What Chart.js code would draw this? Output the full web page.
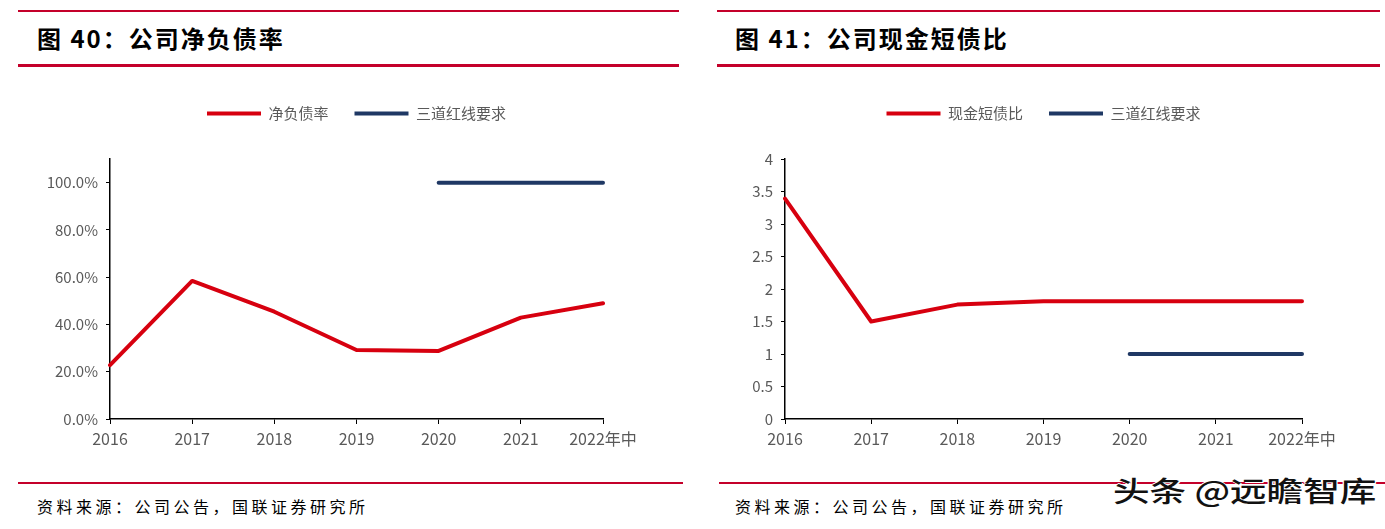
<!DOCTYPE html>
<html>
<head>
<meta charset="utf-8">
<script src="https://cdn.jsdelivr.net/npm/chart.js@4/dist/chart.umd.min.js"></script>
<style>
  body { margin: 0; width: 1385px; height: 529px; background: #fff; position: relative; overflow: hidden; font-family: 'Noto Sans CJK SC', sans-serif; }
  .rule { position: absolute; background: #C4002A; }
  .title { position: absolute; top: 26px; height: 24px; line-height: 24px; font-size: 24px; font-weight: bold; letter-spacing: 2px; color: #000; white-space: nowrap; }
  .source { position: absolute; top: 498px; height: 16px; line-height: 16px; font-size: 16px; letter-spacing: 3.5px; color: #000; white-space: nowrap; }
  canvas { position: absolute; top: 80px; }
  #mark { position: absolute; left: 1113px; top: 476px; height: 28px; line-height: 28px; font-size: 28px; font-weight: 500; color: #111; white-space: nowrap; transform-origin: left center; text-shadow: 1px 1px 0 #fff, -1px 0 0 #fff, 0 -1px 0 #fff; }
</style>
</head>
<body>
<div class="rule" style="left:18px;width:661px;top:10px;height:2px"></div>
<div class="rule" style="left:18px;width:661px;top:64px;height:3px"></div>
<div class="rule" style="left:717px;width:663px;top:10px;height:2px"></div>
<div class="rule" style="left:717px;width:663px;top:64px;height:3px"></div>
<div class="rule" style="left:18px;width:665px;top:482px;height:2px"></div>
<div class="rule" style="left:719px;width:666px;top:482px;height:2px"></div>

<div class="title" style="left:37px">图 40：公司净负债率</div>
<div class="title" style="left:735px">图 41：公司现金短债比</div>

<canvas id="netDebt" width="661" height="380" style="left:18px"></canvas>
<canvas id="cashDebt" width="663" height="380" style="left:717px"></canvas>

<div class="source" style="left:37px">资料来源：公司公告，国联证券研究所</div>
<div class="source" style="left:735px">资料来源：公司公告，国联证券研究所</div>
<div id="mark">头条 @远瞻智库</div>

<script>
const years = ['2016', '2017', '2018', '2019', '2020', '2021', '2022年中'];
const netDebtRatio = [22.8, 58.4, 45.4, 29.2, 28.8, 42.9, 49.0];
const netDebtLimit = [null, null, null, null, 100, 100, 100];
const cashDebtRatio = [3.39, 1.50, 1.76, 1.81, 1.81, 1.81, 1.81];
const cashDebtLimit = [null, null, null, null, 1, 1, 1];

const RED = '#D7000F';
const NAVY = '#1F3864';
const TICK_FONT = "'Liberation Sans Narrow', 'Noto Sans CJK SC', sans-serif";

// fixed legend height so the plot starts where the reference does
const legendGap = {
    id: 'legendGap',
    beforeInit(chart) {
        const fit = chart.legend.fit;
        chart.legend.fit = function() {
            fit.call(this);
            this.height = 79;
        };
    }
};

function makeChart(id, labels, red, navy, redLabel, yOpts, yWidth, padRight) {
    return new Chart(document.getElementById(id), {
        type: 'line',
        data: {
            labels: labels,
            datasets: [
                { label: redLabel, data: red, borderColor: RED, borderWidth: 4, pointRadius: 0, tension: 0, borderCapStyle: 'round', borderJoinStyle: 'round' },
                { label: '三道红线要求', data: navy, borderColor: NAVY, borderWidth: 4, pointRadius: 0, tension: 0, borderCapStyle: 'round', spanGaps: false }
            ]
        },
        options: {
            responsive: false,
            animation: false,
            layout: { padding: { left: 0, right: padRight, top: 0, bottom: 0 } },
            plugins: {
                tooltip: { enabled: false },
                legend: {
                    position: 'top',
                    align: 'center',
                    fullSize: false,
                    labels: {
                        boxWidth: 54,
                        boxHeight: 4,
                        padding: 26,
                        color: '#595959',
                        font: { size: 15, family: "'Noto Sans CJK SC', sans-serif" },
                        generateLabels: chart => chart.data.datasets.map((ds, i) => ({
                            text: ds.label,
                            fillStyle: ds.borderColor,
                            strokeStyle: ds.borderColor,
                            lineWidth: 0,
                            fontColor: '#595959',
                            hidden: false,
                            datasetIndex: i
                        }))
                    }
                }
            },
            scales: {
                x: {
                    type: 'category',
                    offset: false,
                    grid: { display: true, drawOnChartArea: false, drawTicks: true, tickLength: 5, color: '#000', lineWidth: 1 },
                    border: { display: true, color: '#000', width: 1.5 },
                    ticks: { color: '#595959', font: { size: 16, family: TICK_FONT }, padding: 5, maxRotation: 0, autoSkip: false },
                    afterFit: s => { s.height = 41; }
                },
                y: Object.assign({
                    grid: { display: true, drawOnChartArea: false, drawTicks: true, tickLength: 4, color: '#000', lineWidth: 1 },
                    border: { display: true, color: '#000', width: 1.5 },
                    afterFit: s => { s.width = yWidth; }
                }, yOpts)
            }
        },
        plugins: [legendGap]
    });
}

makeChart('netDebt', years, netDebtRatio, netDebtLimit, '净负债率', {
    min: 0,
    max: 110,
    afterBuildTicks: s => { s.ticks = s.ticks.filter(t => t.value <= 100); },
    ticks: { stepSize: 20, color: '#595959', padding: 8, font: { size: 15, family: TICK_FONT }, callback: v => v.toFixed(1) + '%' }
}, 92, 76);

makeChart('cashDebt', years, cashDebtRatio, cashDebtLimit, '现金短债比', {
    min: 0,
    max: 4,
    ticks: { stepSize: 0.5, color: '#595959', padding: 8, font: { size: 15, family: TICK_FONT }, callback: v => String(v) }
}, 68, 78);

// stretch the watermark to its width in the reference
const mark = document.getElementById('mark');
mark.style.transform = 'scaleX(' + (264 / mark.offsetWidth) + ')';
</script>
</body>
</html>
